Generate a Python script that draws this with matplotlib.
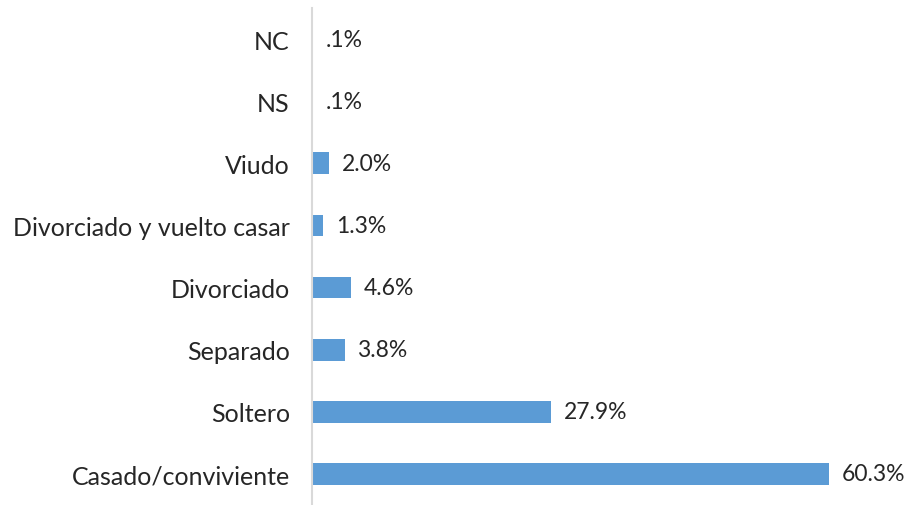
import matplotlib.pyplot as plt

# estado civil, de abajo hacia arriba
categorias = ["Casado/conviviente", "Soltero", "Separado", "Divorciado",
              "Divorciado y vuelto casar", "Viudo", "NS", "NC"]
porcentajes = [60.3, 27.9, 3.8, 4.6, 1.3, 2.0, 0.1, 0.1]

plt.rcParams['font.family'] = ['Lato', 'DejaVu Sans']

fig = plt.figure(figsize=(9.11, 5.06), dpi=100)
ax = fig.add_axes([312/911, 0.0, (900-312)/911, 497/506])

pos = range(len(categorias))
ax.barh(pos, porcentajes, height=0.35, color="#5B9BD5")

def etiqueta(v):
    s = f"{v:.1f}%"
    return s[1:] if s.startswith("0.") else s

for y, v in zip(pos, porcentajes):
    ax.annotate(etiqueta(v), (v, y), xytext=(9, 0), textcoords="offset points",
                va="center", ha="left", fontsize=16.5, color="#262626")

ax.set_yticks(list(pos))
ax.set_yticklabels(categorias, fontsize=18, color="#262626")
ax.set_ylim(-0.5, len(categorias) - 0.5)
ax.set_xlim(0, (900-312)/8.574)
ax.tick_params(axis="y", length=0, pad=16)
ax.set_xticks([])
for s in ["top", "right", "bottom"]:
    ax.spines[s].set_visible(False)
ax.spines["left"].set_color("#d9d9d9")
ax.spines["left"].set_linewidth(1.5)

fig.savefig("out.png", dpi=100)
